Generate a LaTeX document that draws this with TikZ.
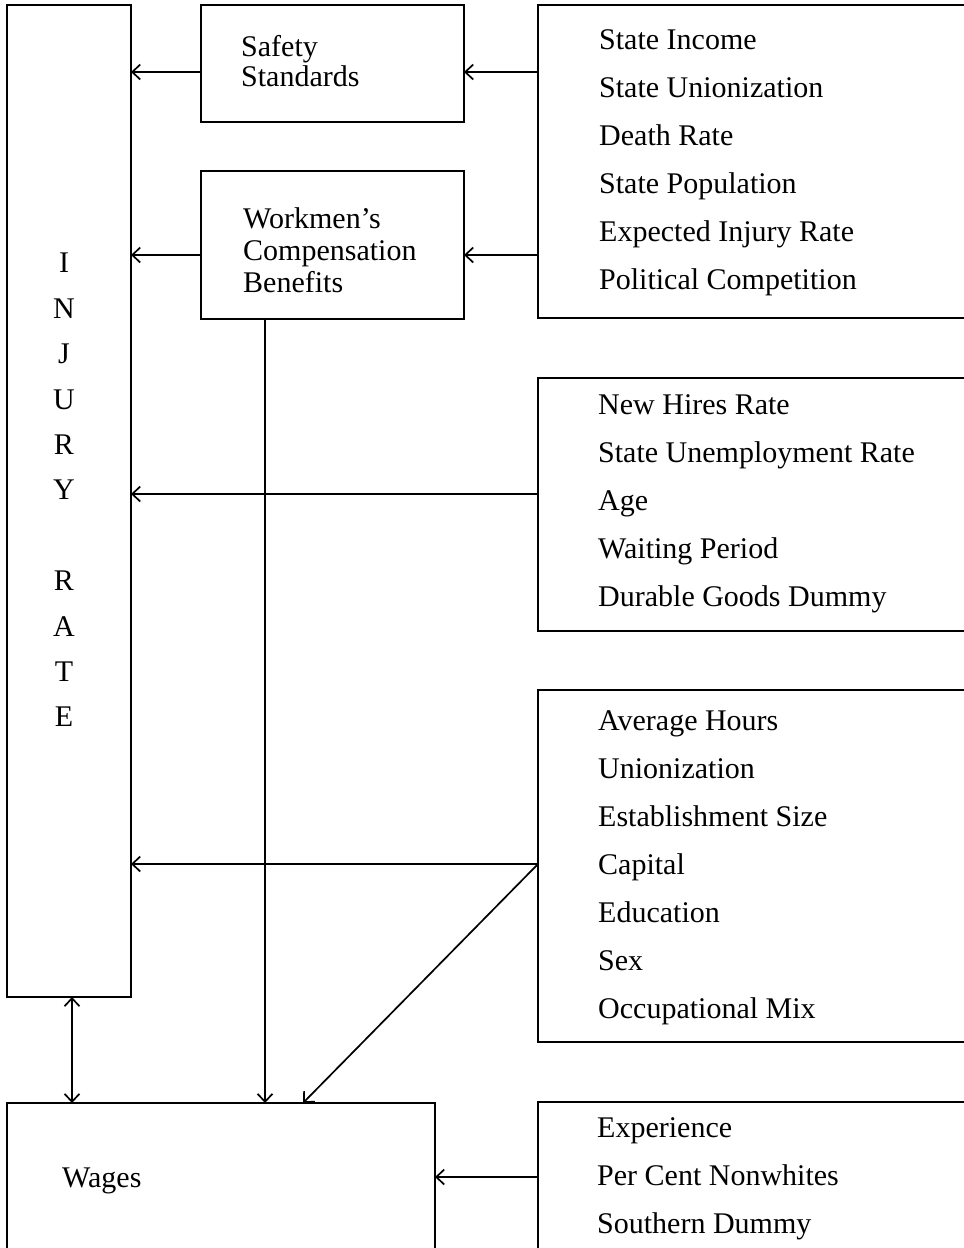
\documentclass[tikz,border=0pt]{standalone}
\usepackage{fontspec}
\setmainfont{Liberation Serif}
\usetikzlibrary{arrows.meta}
\begin{document}
\begin{tikzpicture}[x=1pt,y=-1pt,
  box/.style={draw,line width=2.2pt,inner sep=0pt,outer sep=0pt,anchor=north west},
  arr/.style={line width=1.7pt,-{Straight Barb[length=8pt,width=15pt]}},
  darr/.style={line width=1.7pt,{Straight Barb[length=8pt,width=15pt]}-{Straight Barb[length=8pt,width=15pt]}},
  list/.style={inner sep=0pt,anchor=west,align=left,font=\fontsize{30}{48}\selectfont},
  lbl/.style={inner sep=0pt,anchor=west,align=left},
]
\useasboundingbox (0,0) rectangle (964,1248);
\clip (0,0) rectangle (964,1248);
\fill[white] (0,0) rectangle (964,1248);
% boxes
\node[box,minimum width=124pt,minimum height=992pt] (inj) at (7,5) {};
\node[box,minimum width=263pt,minimum height=117pt] (safe) at (201,5) {};
\node[box,minimum width=263pt,minimum height=148pt] (work) at (201,171) {};
\node[box,minimum width=452pt,minimum height=313pt] (b1) at (538,5) {};
\node[box,minimum width=452pt,minimum height=253pt] (b2) at (538,378) {};
\node[box,minimum width=452pt,minimum height=352pt] (b3) at (538,690) {};
\node[box,minimum width=428pt,minimum height=170pt] (wages) at (7,1103) {};
\node[box,minimum width=452pt,minimum height=170pt] (b4) at (538,1102) {};
% texts
\node[inner sep=0pt,align=center,font=\fontsize{30}{45.4}\selectfont] (injt) at (64,490)
  {I\\N\\J\\U\\R\\Y\\\mbox{}\\R\\A\\T\\E};
\node[lbl,font=\fontsize{30}{30}\selectfont] (safet) at (241,61) {Safety\\Standards};
\node[lbl,font=\fontsize{30}{32}\selectfont] (workt) at (243,250) {Workmen’s\\Compensation\\Benefits};
\node[list] (b1t) at (599,162.5) {State Income\\State Unionization\\Death Rate\\State Population\\Expected Injury Rate\\Political Competition};
\node[list] (b2t) at (598,503.5) {New Hires Rate\\State Unemployment Rate\\Age\\Waiting Period\\Durable Goods Dummy};
\node[list] (b3t) at (598,868) {Average Hours\\Unionization\\Establishment Size\\Capital\\Education\\Sex\\Occupational Mix};
\node[list] (b4t) at (597,1179) {Experience\\Per Cent Nonwhites\\Southern Dummy};
\node[lbl,font=\fontsize{30}{36}\selectfont] (wagest) at (62,1181) {Wages};
% connectors
\draw[arr] (b1.west |- 0,72) -- (safe.east |- 0,72);
\draw[arr] (b1.west |- 0,255) -- (work.east |- 0,255);
\draw[arr] (safe.west |- 0,72) -- (inj.east |- 0,72);
\draw[arr] (work.west |- 0,255) -- (inj.east |- 0,255);
\draw[arr] (b2.west |- 0,494) -- (inj.east |- 0,494);
\coordinate (b3o) at (b3.west |- 0,864);
\draw[arr] (b3o) -- (inj.east |- 0,864);
\draw[arr] (b3o) -- (wages.north -| 303,0);
\draw[arr] (work.south -| 265,0) -- (wages.north -| 265,0);
\draw[darr] (inj.south -| 72,0) -- (wages.north -| 72,0);
\draw[arr] (b4.west |- 0,1177) -- (wages.east |- 0,1177);
\end{tikzpicture}
\end{document}
